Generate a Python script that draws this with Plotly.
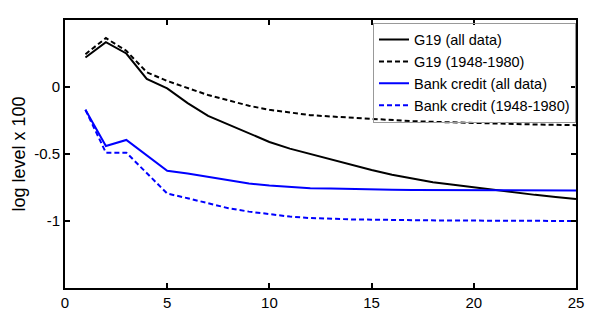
import plotly.graph_objects as go

horizon = list(range(1, 26))

g19_all = [0.22, 0.335, 0.25, 0.06, -0.01, -0.12, -0.215, -0.28, -0.345, -0.41, -0.46,
           -0.50, -0.545, -0.585, -0.62, -0.655, -0.685, -0.71, -0.73, -0.75,
           -0.77, -0.79, -0.805, -0.82, -0.835]
g19_4880 = [0.245, 0.365, 0.27, 0.11, 0.045, -0.005, -0.06, -0.10, -0.14, -0.17, -0.19,
            -0.21, -0.22, -0.23, -0.24, -0.25, -0.255, -0.26, -0.265, -0.27,
            -0.275, -0.278, -0.28, -0.282, -0.285]
bank_all = [-0.17, -0.44, -0.395, -0.51, -0.625, -0.645, -0.67, -0.70, -0.72, -0.735, -0.745,
            -0.755, -0.758, -0.762, -0.765, -0.767, -0.768, -0.769, -0.77, -0.77,
            -0.771, -0.772, -0.772, -0.773, -0.773]
bank_4880 = [-0.17, -0.49, -0.49, -0.64, -0.795, -0.83, -0.87, -0.905, -0.93, -0.95, -0.967,
             -0.978, -0.984, -0.988, -0.99, -0.993, -0.995, -0.996, -0.997, -0.997,
             -0.998, -0.999, -0.999, -1.0, -1.0]

series = [
    ("G19 (all data)", g19_all, "black", "solid"),
    ("G19 (1948-1980)", g19_4880, "black", "5px,3px"),
    ("Bank credit (all data)", bank_all, "#0000ff", "solid"),
    ("Bank credit (1948-1980)", bank_4880, "#0000ff", "5px,3px"),
]

fig = go.Figure()
for name, vals, col, dash in series:
    fig.add_trace(go.Scatter(x=horizon, y=vals, mode="lines", name=name,
                             line=dict(color=col, width=2, dash=dash)))

axis_style = dict(showline=True, linecolor="black", linewidth=2, mirror="allticks",
                  ticks="inside", ticklen=5, tickwidth=1.5, tickcolor="black",
                  showgrid=False, zeroline=False)

# page body has an 8px margin, so the figure starts 8px in from the top-left
fig.update_layout(
    width=592, height=321,
    margin=dict(l=57, r=24, t=10, b=41),
    paper_bgcolor="white", plot_bgcolor="white",
    font=dict(family="Liberation Sans, Arial, sans-serif", size=15, color="black"),
    showlegend=True,
    legend=dict(x=1, y=0.99, xanchor="right", yanchor="top", bgcolor="rgba(255,255,255,0)",
                bordercolor="#999999", borderwidth=1, tracegroupgap=0,
                font=dict(size=14.5), itemwidth=30),
    xaxis=dict(range=[0, 25], tickvals=[0, 5, 10, 15, 20, 25], **axis_style),
    yaxis=dict(range=[-1.5, 0.5], tickvals=[-1, -0.5, 0], ticktext=["-1", "-0.5", "0"],
               title=dict(text="log level x 100", standoff=4), **axis_style),
)

fig.write_html("out.html")
